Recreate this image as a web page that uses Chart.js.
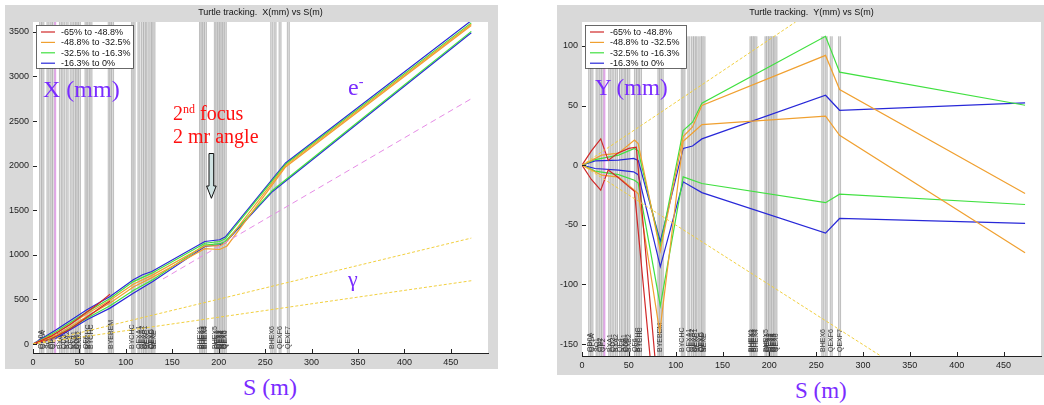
<!DOCTYPE html>
<html>
<head>
<meta charset="utf-8">
<script src="https://cdn.jsdelivr.net/npm/chart.js@4.4.1/dist/chart.umd.min.js"></script>
<style>
  body { margin: 0; width: 1044px; height: 405px; background: #fff; position: relative; overflow: hidden; }
  .panel { position: absolute; background: #d9d9d9; }
  .big { position: absolute; font-family: "Liberation Serif", serif; line-height: 1; white-space: nowrap; color: #7a2cff; }
  .red { color: #ff1010; }
  sup { font-size: 0.6em; vertical-align: 0.6em; line-height: 0; }
</style>
</head>
<body>
<div class="panel" style="left:5px;top:5px;width:493px;height:364px"><canvas id="cx" width="493" height="364"></canvas></div>
<div class="panel" style="left:557px;top:5px;width:487px;height:370px"><canvas id="cy" width="487" height="370"></canvas></div>

<div class="big" style="left:43px;top:77px;font-size:24px">X (mm)</div>
<div class="big" style="left:348px;top:75px;font-size:24px">e<sup>-</sup></div>
<div class="big red" style="left:173px;top:103px;font-size:20px">2<sup>nd</sup> focus</div>
<div class="big red" style="left:173px;top:126px;font-size:20px">2 mr angle</div>
<div class="big" style="left:348px;top:268px;font-size:22px">γ</div>
<div class="big" style="left:243px;top:375px;font-size:24px">S (m)</div>
<div class="big" style="left:595px;top:76px;font-size:23px">Y (mm)</div>
<div class="big" style="left:795px;top:379px;font-size:23px">S (m)</div>
<svg style="position:absolute;left:0;top:0" width="260" height="210">
  <polygon points="209,153.5 213.7,153.5 213.7,186 216.2,186 211.4,198.3 206.6,186 209,186" fill="#cfe2e2" stroke="#111" stroke-width="1"/>
</svg>

<script>
// beamline elements (s in m) and their labels
const elemS = [7.1, 9.6, 15, 18.5, 21, 28.5, 32, 35.7, 40, 43.5, 46.4, 48.9, 56, 58.5, 61.4,
  81, 82.8, 84.6, 106, 107.8, 113, 116.8, 119.2, 122, 125.7, 127.5, 129.2,
  179.3, 181, 182.8, 184.6, 195.3, 197, 199, 200.7, 202.5, 204.3, 206, 256, 259.6, 265, 273.9];
const elemNames = ["QD0A", "QF1A", "SQ1", "QD2", "QF2", "BXA1", "QD3", "BXA2", "QF4", "BXB1", "QD5", "BXB2", "QF6", "BYCHC", "BYCHC",
  "", "BYEBEM", "", "BYCHC", "", "QEXA1", "QEXA2", "QEXB1", "BEXC", "QEXC", "QEXD", "BEXE",
  "BHEX1", "BHEX2", "BHEX3", "BHEX4", "BHEX5", "QEX1", "QEX2", "QEX3", "QEX4", "QEX5", "QEX6", "BHEX6", "", "QEXF6", "QEXF7"];
const pinkS = 23.9;

const legendLabels = ["-65% to -48.8%", "-48.8% to -32.5%", "-32.5% to -16.3%", "-16.3% to 0%"];
const sTicks = [0, 50, 100, 150, 200, 250, 300, 350, 400, 450];
const xmmTicks = [0, 500, 1000, 1500, 2000, 2500, 3000, 3500];
const ymmTicks = [-150, -100, -50, 0, 50, 100];

// X(mm) vs S(m)
const redX1 = [[0, 0], [20, 90], [40, 220], [58, 360], [70, 450], [83, 560]];
const redX2 = [[0, 0], [20, 60], [40, 170], [58, 300], [70, 390], [83, 480]];
const orangeX1 = [[0, 0], [25, 125], [58, 340], [83, 490], [108, 670], [128, 770], [185, 1100], [201, 1100], [208, 1140], [272, 2000], [472, 3585]];
const orangeX2 = [[0, 0], [25, 100], [58, 310], [83, 460], [108, 640], [128, 745], [185, 1070], [201, 1060], [209, 1100], [272, 1985], [472, 3570]];
const greenX1 = [[0, 0], [25, 140], [58, 360], [83, 510], [108, 700], [128, 795], [185, 1130], [201, 1150], [207, 1180], [272, 2015], [472, 3600]];
const greenX2 = [[0, 0], [25, 85], [58, 290], [83, 430], [108, 600], [129, 720], [185, 1110], [201, 1125], [207, 1150], [258, 1725], [472, 3505]];
const blueX1 = [[0, 0], [25, 160], [58, 385], [83, 534], [108, 721], [118, 777], [128, 814], [147, 926], [185, 1150], [201, 1169], [207, 1200], [272, 2030], [472, 3625]];
const blueX2 = [[0, 0], [25, 67], [58, 272], [83, 403], [108, 571], [129, 702], [185, 1094], [201, 1113], [207, 1135], [258, 1711], [472, 3490]];
const magentaX = [[140, 730], [472, 2750]];
const yellowX1 = [[0, 0], [472, 1188]];
const yellowX2 = [[0, 0], [472, 710]];

// Y(mm) vs S(m)
const redY1 = [[0, 0], [10, 12], [20, 22], [28, 4], [38, 10], [50, 14], [58, 15], [80, -180]];
const redY2 = [[0, 0], [10, -12], [20, -21], [28, -4], [38, -10], [50, -18], [56, -22], [75, -180]];
const orangeY1 = [[0, 0], [21, 8.4], [39, 10], [56, 21], [60, 18], [83.6, -72], [108, 24], [118, 32], [128, 50], [260, 92], [275, 63.4], [473, -23.7]];
const orangeY2 = [[0, 0], [21, -8.4], [39, -10], [56, -21], [60, -24], [83, -140], [108, 20], [118, 27], [128, 34], [260, 41], [275, 25], [473, -73.4]];
const greenY1 = [[0, 0], [14, 4.7], [39, 8.4], [56, 14], [60, 12], [83.6, -68], [108, 29], [118, 36], [128, 52], [260, 108], [275, 78], [473, 50.2]];
const greenY2 = [[0, 0], [14, -5], [39, -8], [56, -12.6], [60, -15], [83.6, -118], [108, -9.8], [128, -15.4], [260, -31.5], [275, -24.3], [473, -33]];
const blueY1 = [[0, 0], [14, 3.6], [39, 4.2], [55, 5.6], [60, 4], [83.6, -64], [108, 14], [118, 16], [128, 22], [260, 58.6], [275, 46], [473, 52.2]];
const blueY2 = [[0, 0], [14, -2.8], [39, -4.2], [55, -5.6], [60, -8], [83.6, -85], [108, -14], [128, -23], [260, -57], [275, -44.7], [473, -48.8]];
const yellowY1 = [[0, 0], [228, 120]];
const yellowY2 = [[0, 0], [319, -160]];

const RED = "#d02828", ORANGE = "#f0a030", GREEN = "#40e040", BLUE = "#2828d8";
const legendColors = [RED, ORANGE, GREEN, BLUE];

function pts(a) {
  return a.map(p => ({ x: p[0], y: p[1] }));
}

function ray(data, color) {
  return { data: pts(data), borderColor: color, borderWidth: 1.2, showLine: true, pointRadius: 0, tension: 0 };
}

function dashed(data, color, dash) {
  return { data: pts(data), borderColor: color, borderWidth: 1, borderDash: dash, showLine: true, pointRadius: 0 };
}

// white plot box, element bands, labels
const backPlugin = {
  id: "back",
  beforeDatasetsDraw(chart, args, opts) {
    const { ctx, chartArea: a, scales: { x, y } } = chart;
    ctx.save();
    ctx.fillStyle = "#fff";
    ctx.fillRect(a.left, a.top, a.right - a.left, a.bottom - a.top);
    ctx.beginPath();
    ctx.rect(a.left, a.top, a.right - a.left, a.bottom - a.top);
    ctx.clip();
    const top = Math.max(a.top, y.getPixelForValue(opts.top));
    elemS.forEach(s => {
      const p = x.getPixelForValue(s);
      ctx.fillStyle = "#dedede";
      ctx.fillRect(p, top, 2, a.bottom - top);
      ctx.strokeStyle = "#a9a9a9";
      ctx.lineWidth = 0.7;
      ctx.beginPath();
      ctx.moveTo(p, top); ctx.lineTo(p, a.bottom);
      ctx.moveTo(p + 2, top); ctx.lineTo(p + 2, a.bottom);
      ctx.stroke();
    });
    const pp = x.getPixelForValue(pinkS);
    ctx.strokeStyle = "#e2a6e8";
    ctx.lineWidth = 2;
    ctx.beginPath(); ctx.moveTo(pp, top); ctx.lineTo(pp, a.bottom); ctx.stroke();

    ctx.font = '7px "Liberation Sans"';
    ctx.fillStyle = "#3a3a3a";
    ctx.textBaseline = "middle";
    elemS.forEach((s, i) => {
      if (!elemNames[i]) return;
      ctx.save();
      ctx.translate(x.getPixelForValue(s) + 1, a.bottom - 4);
      ctx.rotate(-Math.PI / 2);
      ctx.fillText(elemNames[i], 0, 0);
      ctx.restore();
    });
    ctx.restore();
  },
  afterDraw(chart, args, opts) {
    const { ctx, chartArea: a, scales: { x, y } } = chart;
    ctx.save();
    // inward ticks
    ctx.strokeStyle = "#222";
    ctx.lineWidth = 1;
    x.ticks.forEach(t => {
      const p = Math.round(x.getPixelForValue(t.value)) + 0.5;
      ctx.beginPath(); ctx.moveTo(p, a.bottom); ctx.lineTo(p, a.bottom - 4); ctx.stroke();
    });
    y.ticks.forEach(t => {
      const p = Math.round(y.getPixelForValue(t.value)) + 0.5;
      ctx.beginPath(); ctx.moveTo(a.left, p); ctx.lineTo(a.left + 4, p); ctx.stroke();
    });
    // title
    ctx.fillStyle = "#111";
    ctx.font = '9px "Liberation Sans"';
    ctx.textAlign = "center";
    ctx.textBaseline = "middle";
    ctx.fillText(opts.title, (a.left + a.right) / 2, a.top - 9);
    // legend
    const bx = a.left + 3, by = a.top + 3, bw = opts.legendW, bh = 43;
    ctx.fillStyle = "#fff";
    ctx.fillRect(bx, by, bw, bh);
    ctx.strokeStyle = "#444";
    ctx.lineWidth = 0.8;
    ctx.strokeRect(bx + 0.5, by + 0.5, bw, bh);
    ctx.textAlign = "left";
    legendLabels.forEach((txt, i) => {
      const ly = by + 7 + i * 10.4;
      ctx.strokeStyle = legendColors[i];
      ctx.lineWidth = 1.2;
      ctx.beginPath(); ctx.moveTo(bx + 5, ly); ctx.lineTo(bx + 19, ly); ctx.stroke();
      ctx.fillStyle = "#111";
      ctx.fillText(txt, bx + 25, ly + 0.5);
    });
    ctx.restore();
  }
};

function axes(xmin, xmax, ymin, ymax, yTicks, yw, xh) {
  const tickFont = { size: 9, family: "Liberation Sans" };
  return {
    x: {
      type: "linear", min: xmin, max: xmax,
      afterBuildTicks: s => { s.ticks = sTicks.map(v => ({ value: v })); },
      ticks: { font: tickFont, color: "#222", padding: 4, maxRotation: 0, autoSkip: false, callback: v => String(v) },
      grid: { display: false, drawTicks: false },
      border: { color: "#222" },
      afterFit: s => { s.height = xh; }
    },
    y: {
      type: "linear", min: ymin, max: ymax,
      afterBuildTicks: s => { s.ticks = yTicks.map(v => ({ value: v })); },
      ticks: { font: tickFont, color: "#222", padding: 4, autoSkip: false, callback: v => String(v) },
      grid: { display: false, drawTicks: false },
      border: { color: "#222" },
      afterFit: s => { s.width = yw; }
    }
  };
}

new Chart(document.getElementById("cx"), {
  type: "scatter",
  data: {
    datasets: [
      dashed(yellowX1, "#f2d040", [3, 2]),
      dashed(yellowX2, "#f2d040", [3, 2]),
      dashed(magentaX, "#e68ce6", [6, 4]),
      ray(redX1, RED), ray(redX2, RED),
      ray(orangeX1, ORANGE), ray(orangeX2, ORANGE),
      ray(greenX1, GREEN), ray(greenX2, GREEN),
      ray(blueX1, BLUE), ray(blueX2, BLUE)
    ]
  },
  options: {
    responsive: false,
    animation: false,
    layout: { padding: { left: 0, top: 17, right: 10, bottom: 0 } },
    scales: axes(0, 490, -100, 3610, xmmTicks, 28, 16),
    plugins: {
      legend: { display: false },
      tooltip: { enabled: false },
      back: { top: 3610, title: "Turtle tracking.  X(mm) vs S(m)", legendW: 97 }
    }
  },
  plugins: [backPlugin]
});

new Chart(document.getElementById("cy"), {
  type: "scatter",
  data: {
    datasets: [
      dashed(yellowY1, "#f2d040", [3, 2]),
      dashed(yellowY2, "#f2d040", [3, 2]),
      ray(redY1, RED), ray(redY2, RED),
      ray(orangeY1, ORANGE), ray(orangeY2, ORANGE),
      ray(greenY1, GREEN), ray(greenY2, GREEN),
      ray(blueY1, BLUE), ray(blueY2, BLUE)
    ]
  },
  options: {
    responsive: false,
    animation: false,
    layout: { padding: { left: 0, top: 17, right: 3, bottom: 0 } },
    scales: axes(0, 490, -160, 120, ymmTicks, 25, 19),
    plugins: {
      legend: { display: false },
      tooltip: { enabled: false },
      back: { top: 108, title: "Turtle tracking.  Y(mm) vs S(m)", legendW: 101 }
    }
  },
  plugins: [backPlugin]
});
</script>
</body>
</html>
